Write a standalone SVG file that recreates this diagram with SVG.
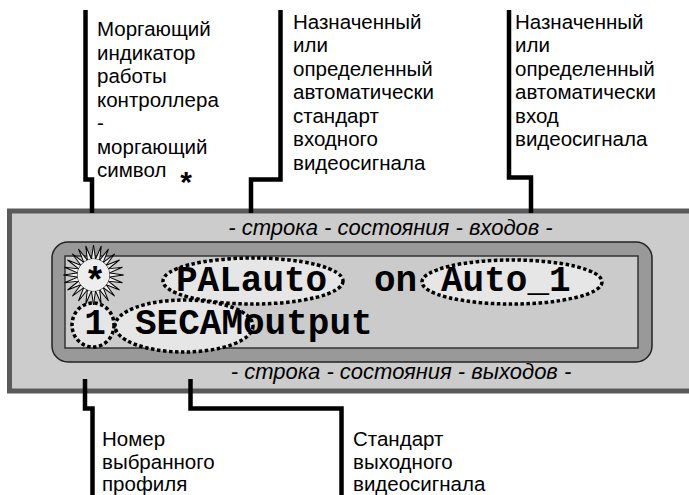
<svg xmlns="http://www.w3.org/2000/svg" xmlns:xlink="http://www.w3.org/1999/xlink" width="689" height="495" viewBox="0 0 689 495">
<style>
.lbl{font-family:"Liberation Sans",Arial,sans-serif;font-size:20.5px;fill:#000}
.cap{font-family:"Liberation Sans",Arial,sans-serif;font-size:22px;font-style:italic;fill:#000;text-anchor:middle}
.lcd{font-family:"Liberation Mono","Courier New",monospace;font-size:36px;font-weight:bold;fill:#000}
.conn{fill:none;stroke:#000;stroke-width:4.5;stroke-linejoin:miter}
.hl{fill:#e6e6e6;stroke:#000;stroke-width:3.5;stroke-dasharray:3.5 2.5}
</style>
<defs>
<polygon id="spike" points="15.86,-2.09 30,0 15.86,2.09" fill="#eeeeee" stroke="#000" stroke-width="1"/>
</defs>
<rect width="689" height="495" fill="#fff"/>

<g id="panel">
<rect x="9.5" y="211" width="700" height="180" fill="#cccccc" stroke="#5a5a5a" stroke-width="5"/>
<text class="cap" x="390.5" y="235">- строка - состояния - входов -</text>
<text class="cap" x="401" y="379">- строка - состояния - выходов -</text>
</g>

<g id="lcd">
<rect x="52" y="242" width="600" height="120" rx="16" fill="#999999" stroke="#222" stroke-width="1.5"/>
<rect x="65" y="256" width="573" height="92" fill="#cbcbcb" stroke="#333" stroke-width="1.5"/>
</g>

<g id="hl-palauto"><ellipse class="hl" cx="253" cy="281" rx="90" ry="23"/></g>
<g id="hl-auto1"><ellipse class="hl" cx="512" cy="282" rx="90" ry="22"/></g>
<g id="hl-secam"><ellipse class="hl" cx="184" cy="326" rx="69" ry="26"/></g>
<g id="hl-profile"><ellipse class="hl" cx="93" cy="325" rx="21" ry="22"/></g>

<g id="star" transform="translate(93.5,275)">
<use xlink:href="#spike" transform="rotate(0)"/>
<use xlink:href="#spike" transform="rotate(15)"/>
<use xlink:href="#spike" transform="rotate(30)"/>
<use xlink:href="#spike" transform="rotate(45)"/>
<use xlink:href="#spike" transform="rotate(60)"/>
<use xlink:href="#spike" transform="rotate(75)"/>
<use xlink:href="#spike" transform="rotate(90)"/>
<use xlink:href="#spike" transform="rotate(105)"/>
<use xlink:href="#spike" transform="rotate(120)"/>
<use xlink:href="#spike" transform="rotate(135)"/>
<use xlink:href="#spike" transform="rotate(150)"/>
<use xlink:href="#spike" transform="rotate(165)"/>
<use xlink:href="#spike" transform="rotate(180)"/>
<use xlink:href="#spike" transform="rotate(195)"/>
<use xlink:href="#spike" transform="rotate(210)"/>
<use xlink:href="#spike" transform="rotate(225)"/>
<use xlink:href="#spike" transform="rotate(240)"/>
<use xlink:href="#spike" transform="rotate(255)"/>
<use xlink:href="#spike" transform="rotate(270)"/>
<use xlink:href="#spike" transform="rotate(285)"/>
<use xlink:href="#spike" transform="rotate(300)"/>
<use xlink:href="#spike" transform="rotate(315)"/>
<use xlink:href="#spike" transform="rotate(330)"/>
<use xlink:href="#spike" transform="rotate(345)"/>
<circle r="16" fill="#eeeeee"/>
</g>

<g id="lcd-text">
<text class="lcd" x="95" y="293" text-anchor="middle">*</text>
<text class="lcd" x="176" y="291">PALauto</text>
<text class="lcd" x="374" y="291">on</text>
<text class="lcd" x="441" y="291">Auto_1</text>
<text class="lcd" x="95" y="334" text-anchor="middle">1</text>
<text class="lcd" x="135" y="334">SECAMoutput</text>
</g>

<g id="connectors">
<polyline class="conn" points="85.5,10 85.5,179.5 92,179.5 92,213"/>
<polyline class="conn" points="280.5,10 280.5,179.5 251,179.5 251,213"/>
<polyline class="conn" points="509,10 509,177.5 531,177.5 531,213"/>
<polyline class="conn" points="85,379 85,408.5 92.5,408.5 92.5,495"/>
<polyline class="conn" points="190.5,379 190.5,408.5 341.5,408.5 341.5,495"/>
</g>

<g id="label-blink">
<text class="lbl" x="97" y="36">Моргающий</text>
<text class="lbl" x="97" y="59.5">индикатор</text>
<text class="lbl" x="97" y="83">работы</text>
<text class="lbl" x="97" y="106.5">контроллера</text>
<text class="lbl" x="97" y="130">-</text>
<text class="lbl" x="97" y="153.5">моргающий</text>
<text class="lbl" x="97" y="177">символ</text>
<text x="186" y="192" text-anchor="middle" font-family="Liberation Sans,Arial,sans-serif" font-weight="bold" font-size="30">*</text>
</g>

<g id="label-instd">
<text class="lbl" x="293" y="28.5">Назначенный</text>
<text class="lbl" x="293" y="52">или</text>
<text class="lbl" x="293" y="75.5">определенный</text>
<text class="lbl" x="293" y="99">автоматически</text>
<text class="lbl" x="293" y="122.5">стандарт</text>
<text class="lbl" x="293" y="146">входного</text>
<text class="lbl" x="293" y="169.5">видеосигнала</text>
</g>

<g id="label-input">
<text class="lbl" x="515" y="28.5">Назначенный</text>
<text class="lbl" x="515" y="52">или</text>
<text class="lbl" x="515" y="75.5">определенный</text>
<text class="lbl" x="515" y="99">автоматически</text>
<text class="lbl" x="515" y="122.5">вход</text>
<text class="lbl" x="515" y="146">видеосигнала</text>
</g>

<g id="label-profile">
<text class="lbl" x="102" y="446">Номер</text>
<text class="lbl" x="102" y="469">выбранного</text>
<text class="lbl" x="102" y="491">профиля</text>
</g>

<g id="label-outstd">
<text class="lbl" x="353" y="446">Стандарт</text>
<text class="lbl" x="353" y="469">выходного</text>
<text class="lbl" x="353" y="491">видеосигнала</text>
</g>
</svg>
